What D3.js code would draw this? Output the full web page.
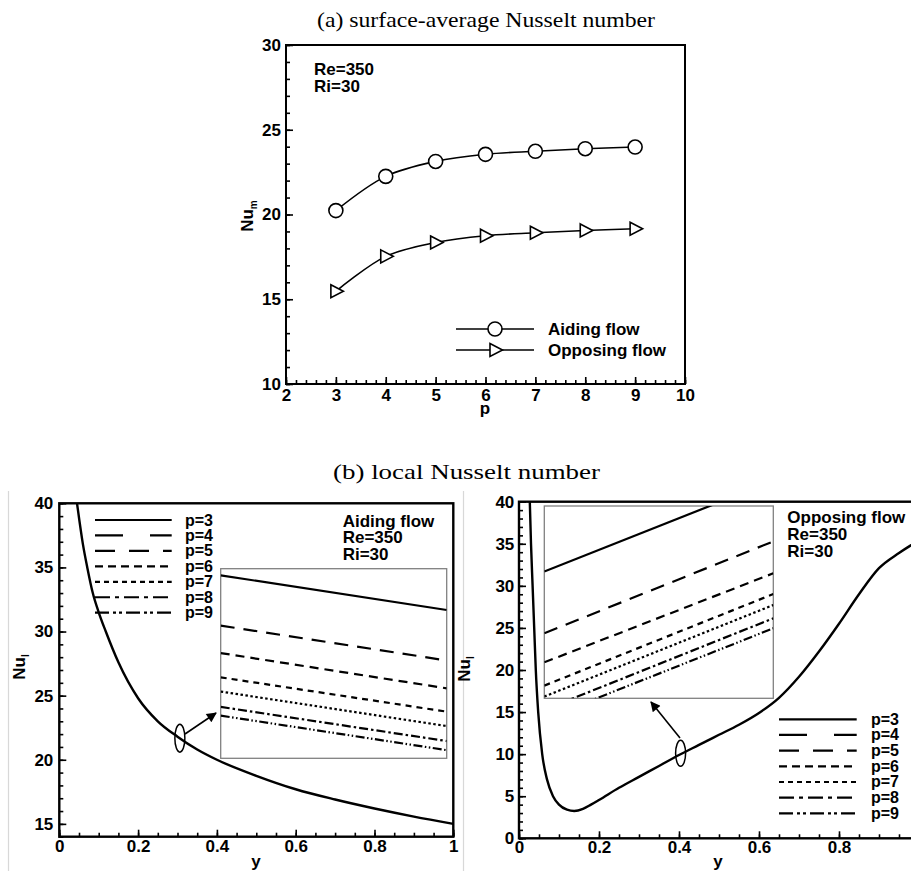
<!DOCTYPE html>
<html><head><meta charset="utf-8">
<script src="https://cdn.jsdelivr.net/npm/d3@7"></script>
<style>
html,body{margin:0;padding:0;background:#fff;}
svg{display:block;}
.tk text{font-family:"Liberation Sans",Arial,sans-serif;font-weight:bold;font-size:17px;fill:#000;}
.tk line{stroke:#000;stroke-width:1.6;}
.tk path{display:none;}
.lbl{font-family:"Liberation Sans",Arial,sans-serif;font-weight:bold;fill:#000;}
.ttl{font-family:"Liberation Serif","Times New Roman",serif;fill:#000;}
</style></head>
<body>
<script>
// ---------- data ----------
// (a) surface-average Nusselt number
const pValues = [3, 4, 5, 6, 7, 8, 9];
const nuAidingMean = [20.23, 22.25, 23.13, 23.55, 23.73, 23.88, 23.98];
const nuOpposingMean = [15.47, 17.53, 18.35, 18.75, 18.92, 19.06, 19.16];
const seriesNamesA = ["Aiding flow", "Opposing flow"];
const xTicksA = [2, 3, 4, 5, 6, 7, 8, 9, 10];
const yTicksA = [10, 15, 20, 25, 30];

// (b) local Nusselt number, aiding flow (curves of p=3..9 overlap at this scale)
const yAiding = [0.045, 0.06, 0.071, 0.085, 0.1, 0.118, 0.15, 0.2, 0.25, 0.3, 0.35, 0.4, 0.5, 0.6, 0.7, 0.8, 0.9, 1.0];
const nuAidingLocal = [40, 36.8, 35, 33.0, 31.5, 30, 27.6, 24.8, 23.0, 21.8, 20.8, 20.0, 18.75, 17.7, 16.9, 16.2, 15.57, 15.0];
// (b) local Nusselt number, opposing flow
const yOpposing = [0.027, 0.030, 0.034, 0.038, 0.042, 0.048, 0.058, 0.070, 0.085, 0.10, 0.12, 0.138, 0.16, 0.18, 0.2, 0.25, 0.3, 0.35, 0.4, 0.45, 0.5, 0.55, 0.6, 0.65, 0.7, 0.75, 0.8, 0.85, 0.9, 0.95, 1.0];
const nuOpposingLocal = [40, 35, 30, 25, 20, 15, 10, 7.0, 5.0, 4.0, 3.4, 3.25, 3.5, 4.0, 4.55, 6.0, 7.3, 8.6, 9.9, 11.1, 12.3, 13.5, 14.9, 16.7, 19.2, 22.2, 25.5, 29.0, 32.1, 33.9, 35.4];

const pLabels = ["p=3", "p=4", "p=5", "p=6", "p=7", "p=8", "p=9"];
// zoomed insets: value at left and right edge of each inset
const insetAidingY = [0.30, 0.32];
const insetAidingStart = [22.165, 21.900, 21.755, 21.627, 21.552, 21.471, 21.425];
const insetAidingEnd   = [21.982, 21.716, 21.569, 21.446, 21.370, 21.291, 21.243];
const insetOpposingY = [0.39, 0.41];
const insetOpposingStart = [10.459, 10.138, 9.987, 9.866, 9.809, 9.740, 9.692];
const insetOpposingEnd   = [10.931, 10.616, 10.450, 10.342, 10.285, 10.216, 10.164];

const xTicksB = [0, 0.2, 0.4, 0.6, 0.8, 1];
const xTicksBRLabelled = [0, 0.2, 0.4, 0.6, 0.8];
const yTicksBL = [15, 20, 25, 30, 35, 40];
const yTicksBR = [0, 5, 10, 15, 20, 25, 30, 35, 40];

// ---------- styles ----------
const insetDash = [null, "14,9", "9,6", "6,5", "2.5,2.5", "9,3,2.5,3", "9,2.5,1.5,2.5,1.5,2.5"];
const legendDash = [null, "28,27", "20,14", "8,5", "5,4", "15,5,4,5", "14,4,3,3,3,4"];

const W = 911, H = 871;
const svg = d3.select("body").append("svg").attr("width", W).attr("height", H);
svg.append("rect").attr("width", W).attr("height", H).attr("fill", "#fff");

// separators
[8.5, 463.5].forEach(x => svg.append("line").attr("x1", x).attr("x2", x).attr("y1", 491).attr("y2", H)
  .attr("stroke", "#d8d8d8").attr("stroke-width", 1.2));

// titles
svg.append("text").attr("class", "ttl").attr("x", 317).attr("y", 27).attr("font-size", 21)
  .attr("textLength", 338).attr("lengthAdjust", "spacingAndGlyphs").text("(a) surface-average Nusselt number");
svg.append("text").attr("class", "ttl").attr("x", 333).attr("y", 479).attr("font-size", 21)
  .attr("textLength", 267).attr("lengthAdjust", "spacingAndGlyphs").text("(b) local Nusselt number");

function range(a, b, s) { const r = []; for (let v = a; v <= b + 1e-9; v += s) r.push(+v.toFixed(4)); return r; }

function drawAxes(g, x, y, xMajor, xLab, xMinor, yMajor, yMinor, xPad, yPad, fmt) {
  const y0 = y.range()[0], x0 = x.range()[0];
  g.append("g").attr("class", "tk").attr("transform", `translate(0,${y0})`)
    .call(d3.axisBottom(x).tickValues(xMinor).tickSizeInner(-4).tickSizeOuter(0).tickFormat(""));
  g.append("g").attr("class", "tk").attr("transform", `translate(0,${y0})`)
    .call(d3.axisBottom(x).tickValues(xMajor).tickSizeInner(-7).tickSizeOuter(0).tickPadding(xPad)
      .tickFormat(d => xLab.includes(d) ? fmt(d) : ""));
  g.append("g").attr("class", "tk").attr("transform", `translate(${x0},0)`)
    .call(d3.axisLeft(y).tickValues(yMinor).tickSizeInner(-4).tickSizeOuter(0).tickFormat(""));
  g.append("g").attr("class", "tk").attr("transform", `translate(${x0},0)`)
    .call(d3.axisLeft(y).tickValues(yMajor).tickSizeInner(-7).tickSizeOuter(0).tickPadding(yPad).tickFormat(d3.format("d")));
}
function frame(g, x, y, sw) {
  const [xa, xb] = x.range(), [ya, yb] = y.range();
  g.append("rect").attr("x", xa).attr("y", yb).attr("width", xb - xa).attr("height", ya - yb)
    .attr("fill", "none").attr("stroke", "#000").attr("stroke-width", sw);
}
function rotLabel(x, y, main, sub) {
  const t = svg.append("text").attr("class", "lbl").attr("font-size", 17)
    .attr("text-anchor", "middle").attr("transform", `translate(${x},${y}) rotate(-90)`);
  t.append("tspan").text(main);
  t.append("tspan").attr("font-size", 10).attr("dy", 4).text(sub);
}

// ================= (a) =================
const xA = d3.scaleLinear().domain([2, 10]).range([286, 685]);
const yA = d3.scaleLinear().domain([10, 30]).range([384, 45]);
const gA = svg.append("g");
drawAxes(gA, xA, yA, xTicksA, xTicksA, range(2, 10, 0.2), yTicksA, range(10, 30, 1), 5, 5, d3.format("d"));
frame(gA, xA, yA, 2);

const lineA = d3.line().x((d, i) => xA(pValues[i])).y(d => yA(d)).curve(d3.curveCatmullRom.alpha(0.5));
[nuAidingMean, nuOpposingMean].forEach(arr => gA.append("path").attr("d", lineA(arr))
  .attr("fill", "none").attr("stroke", "#000").attr("stroke-width", 1.6));
const tri = "M-5,-6.5L7.5,0L-5,6.5Z";
gA.selectAll("circle.m").data(nuAidingMean).join("circle").attr("cx", (d, i) => xA(pValues[i])).attr("cy", d => yA(d))
  .attr("r", 7).attr("fill", "#fff").attr("stroke", "#000").attr("stroke-width", 1.6);
gA.selectAll("path.t").data(nuOpposingMean).join("path").attr("d", tri)
  .attr("transform", (d, i) => `translate(${xA(pValues[i])},${yA(d)})`)
  .attr("fill", "#fff").attr("stroke", "#000").attr("stroke-width", 1.6);

// legend (a)
seriesNamesA.forEach((name, i) => {
  const ly = 329 + i * 21;
  gA.append("line").attr("x1", 456).attr("x2", 534).attr("y1", ly).attr("y2", ly).attr("stroke", "#000").attr("stroke-width", 1.6);
  if (i === 0) gA.append("circle").attr("cx", 495).attr("cy", ly).attr("r", 7).attr("fill", "#fff").attr("stroke", "#000").attr("stroke-width", 1.6);
  else gA.append("path").attr("d", tri).attr("transform", `translate(495,${ly})`).attr("fill", "#fff").attr("stroke", "#000").attr("stroke-width", 1.6);
  gA.append("text").attr("class", "lbl").attr("font-size", 17).attr("x", 548).attr("y", ly + 6).text(name);
});
gA.append("text").attr("class", "lbl").attr("font-size", 17).attr("x", 314).attr("y", 75).text("Re=350");
gA.append("text").attr("class", "lbl").attr("font-size", 17).attr("x", 314).attr("y", 92).text("Ri=30");
rotLabel(253, 216, "Nu", "m");
svg.append("text").attr("class", "lbl").attr("font-size", 17).attr("text-anchor", "middle").attr("x", 485).attr("y", 414).text("p");

// ================= (b) left: aiding =================
const xL = d3.scaleLinear().domain([0, 1]).range([59.3, 453.3]);
const yL = d3.scaleLinear().domain([14, 40]).range([836.7, 503.3]);
const gL = svg.append("g");
drawAxes(gL, xL, yL, xTicksB, xTicksB, range(0, 1, 0.05), yTicksBL, range(14, 40, 1), 3, 6, d3.format("~g"));
gL.append("path").attr("d", d3.line().x((d, i) => xL(yAiding[i])).y(d => yL(d)).curve(d3.curveMonotoneX)(nuAidingLocal))
  .attr("fill", "none").attr("stroke", "#000").attr("stroke-width", 2.4);
frame(gL, xL, yL, 2.4);

function inset(g, box, xd, yd, starts, ends, id) {
  const xi = d3.scaleLinear().domain(xd).range([box[0], box[2]]);
  const yi = d3.scaleLinear().domain(yd).range([box[3], box[1]]);
  svg.append("clipPath").attr("id", id).append("rect").attr("x", box[0]).attr("y", box[1])
    .attr("width", box[2] - box[0]).attr("height", box[3] - box[1]);
  const gi = g.append("g");
  gi.append("rect").attr("x", box[0]).attr("y", box[1]).attr("width", box[2] - box[0]).attr("height", box[3] - box[1])
    .attr("fill", "#fff").attr("stroke", "#808080").attr("stroke-width", 1.3);
  const gl = gi.append("g").attr("clip-path", `url(#${id})`);
  starts.forEach((s, k) => {
    gl.append("path").attr("d", d3.line().x((d, i) => xi(xd[i])).y(d => yi(d))([s, ends[k]]))
      .attr("fill", "none").attr("stroke", "#000").attr("stroke-width", 2.2)
      .attr("stroke-dasharray", insetDash[k]);
  });
}
inset(gL, [220.7, 568.7, 446.7, 758.3], insetAidingY, [21.2, 22.2], insetAidingStart, insetAidingEnd, "clipL");

function legendB(g, x1, x2, tx, y0, dy) {
  pLabels.forEach((lab, k) => {
    const ly = y0 + k * dy;
    g.append("line").attr("x1", x1).attr("x2", x2).attr("y1", ly).attr("y2", ly).attr("stroke", "#000")
      .attr("stroke-width", 2.2).attr("stroke-dasharray", legendDash[k]);
    g.append("text").attr("class", "lbl").attr("font-size", 16).attr("x", tx).attr("y", ly + 5.5).text(lab);
  });
}
legendB(gL, 95, 171.7, 185, 520, 15.45);
gL.append("text").attr("class", "lbl").attr("font-size", 17).attr("x", 342.7).attr("y", 526.7).text("Aiding flow");
gL.append("text").attr("class", "lbl").attr("font-size", 17).attr("x", 342.7).attr("y", 543.3).text("Re=350");
gL.append("text").attr("class", "lbl").attr("font-size", 17).attr("x", 342.7).attr("y", 560).text("Ri=30");

const defs = svg.append("defs");
defs.append("marker").attr("id", "ah").attr("viewBox", "0 0 10 10").attr("refX", 9).attr("refY", 5)
  .attr("markerWidth", 16).attr("markerHeight", 10).attr("markerUnits", "userSpaceOnUse").attr("orient", "auto")
  .append("path").attr("d", "M0,0L10,5L0,10Z").attr("fill", "#000");

gL.append("ellipse").attr("cx", xL(0.306)).attr("cy", yL(21.68)).attr("rx", 5).attr("ry", 14)
  .attr("fill", "none").attr("stroke", "#000").attr("stroke-width", 1.5);
gL.append("line").attr("x1", 185).attr("y1", 734).attr("x2", 216).attr("y2", 713)
  .attr("stroke", "#000").attr("stroke-width", 1.6).attr("marker-end", "url(#ah)");
rotLabel(25, 667, "Nu", "l");
svg.append("text").attr("class", "lbl").attr("font-size", 17).attr("text-anchor", "middle").attr("x", 256).attr("y", 867).text("y");

// ================= (b) right: opposing =================
const xR = d3.scaleLinear().domain([0, 1]).range([519, 919]);
const yR = d3.scaleLinear().domain([0, 40]).range([838.3, 501.7]);
const gR = svg.append("g");
drawAxes(gR, xR, yR, xTicksB, xTicksBRLabelled, range(0, 1, 0.05), yTicksBR, range(0, 40, 1), 2.5, 4.7, d3.format("~g"));
gR.append("path").attr("d", d3.line().x((d, i) => xR(yOpposing[i])).y(d => yR(d)).curve(d3.curveMonotoneX)(nuOpposingLocal))
  .attr("fill", "none").attr("stroke", "#000").attr("stroke-width", 2.4);
frame(gR, xR, yR, 2.4);
inset(gR, [544.3, 506, 773.3, 698.3], insetOpposingY, [9.8, 10.8], insetOpposingStart, insetOpposingEnd, "clipR");
legendB(gR, 779, 856.7, 871, 719.3, 15.67);
gR.append("text").attr("class", "lbl").attr("font-size", 17).attr("x", 787.3).attr("y", 522.7).text("Opposing flow");
gR.append("text").attr("class", "lbl").attr("font-size", 17).attr("x", 787.3).attr("y", 540).text("Re=350");
gR.append("text").attr("class", "lbl").attr("font-size", 17).attr("x", 787.3).attr("y", 556.7).text("Ri=30");
gR.append("ellipse").attr("cx", xR(0.404)).attr("cy", yR(10.1)).attr("rx", 5).attr("ry", 13)
  .attr("fill", "none").attr("stroke", "#000").attr("stroke-width", 1.5);
gR.append("line").attr("x1", 680).attr("y1", 738).attr("x2", 651).attr("y2", 702)
  .attr("stroke", "#000").attr("stroke-width", 1.6).attr("marker-end", "url(#ah)");
rotLabel(470, 669, "Nu", "l");
svg.append("text").attr("class", "lbl").attr("font-size", 17).attr("text-anchor", "middle").attr("x", 718).attr("y", 867).text("y");
</script>
</body></html>
